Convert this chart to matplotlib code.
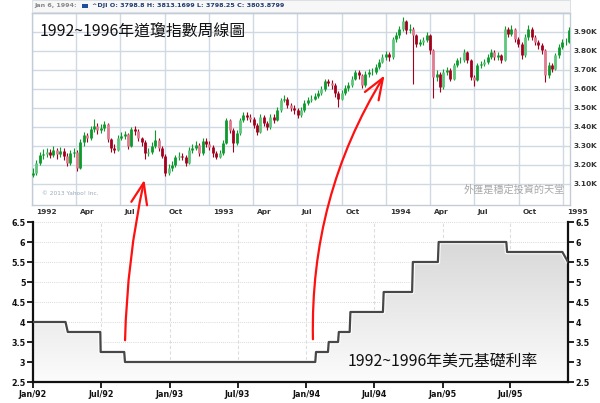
"""
道瓊指數周線圖 + 美元基礎利率 (1992~1996)
執行：python plot.py
"""

import numpy as np
import pandas as pd
import matplotlib
matplotlib.use("Agg")
import matplotlib.pyplot as plt
import matplotlib.dates as mdates
from matplotlib.colors import LinearSegmentedColormap
from matplotlib.patches import FancyArrowPatch, Rectangle

CJK = ['Noto Sans CJK TC', 'DejaVu Sans']

# ── 資料：道瓊周線 ───────────────────────────────────────────────
week_start = "1992-01-03"
first_open = 3150
dji_close = [
    3160, 3210, 3255, 3260, 3270, 3255, 3280, 3260, 3275, 3250,
    3210, 3265, 3270, 3185, 3320, 3360, 3340, 3390, 3405, 3385,
    3395, 3415, 3335, 3290, 3280, 3345, 3355, 3365, 3300, 3390,
    3380, 3340, 3320, 3265, 3270, 3300, 3330, 3290, 3250, 3160,
    3185, 3200, 3240, 3250, 3245, 3210, 3280, 3290, 3305, 3265,
    3325, 3310, 3297, 3262, 3245, 3262, 3315, 3437, 3385, 3315,
    3367, 3437, 3463, 3455, 3445, 3410, 3375, 3455, 3420, 3400,
    3455, 3437, 3490, 3542, 3550, 3515, 3498, 3490, 3463, 3490,
    3525, 3542, 3550, 3563, 3577, 3598, 3643, 3632, 3620, 3577,
    3550, 3577, 3603, 3620, 3655, 3690, 3672, 3620, 3681, 3690,
    3690, 3716, 3743, 3769, 3786, 3769, 3865, 3882, 3917, 3960,
    3908, 3917, 3882, 3838, 3847, 3856, 3882, 3803, 3664, 3681,
    3611, 3690, 3699, 3655, 3725, 3751, 3751, 3795, 3751, 3664,
    3646, 3725, 3734, 3742, 3769, 3795, 3769, 3777, 3751, 3917,
    3890, 3917, 3865, 3838, 3777, 3873, 3917, 3873, 3847, 3830,
    3803, 3672, 3725, 3708, 3777, 3821, 3847, 3847, 3908,
]
dji_high = [
    3185, 3225, 3270, 3285, 3290, 3285, 3300, 3290, 3295, 3290,
    3265, 3280, 3290, 3280, 3335, 3375, 3370, 3405, 3445, 3420,
    3415, 3430, 3420, 3345, 3310, 3360, 3375, 3380, 3370, 3400,
    3405, 3390, 3350, 3330, 3290, 3320, 3385, 3340, 3300, 3260,
    3205, 3220, 3255, 3270, 3265, 3255, 3295, 3310, 3325, 3315,
    3340, 3340, 3325, 3305, 3275, 3280, 3330, 3450, 3445, 3395,
    3385, 3450, 3480, 3478, 3470, 3455, 3420, 3468, 3465, 3430,
    3470, 3468, 3505, 3555, 3570, 3560, 3525, 3515, 3500, 3505,
    3540, 3558, 3568, 3580, 3595, 3615, 3655, 3655, 3645, 3630,
    3590, 3595, 3620, 3638, 3670, 3700, 3700, 3680, 3695, 3708,
    3712, 3730, 3758, 3785, 3800, 3795, 3875, 3900, 3930, 3978,
    3965, 3943, 3925, 3890, 3865, 3875, 3898, 3890, 3810, 3700,
    3690, 3705, 3718, 3710, 3738, 3765, 3770, 3810, 3800, 3760,
    3675, 3738, 3750, 3760, 3785, 3812, 3805, 3795, 3785, 3930,
    3928, 3935, 3922, 3875, 3845, 3888, 3936, 3925, 3885, 3860,
    3840, 3810, 3740, 3735, 3790, 3835, 3862, 3868, 3925,
]
dji_low = [
    3135, 3150, 3200, 3230, 3245, 3235, 3240, 3230, 3245, 3225,
    3195, 3200, 3245, 3170, 3180, 3300, 3320, 3330, 3375, 3365,
    3370, 3380, 3320, 3270, 3265, 3275, 3330, 3335, 3285, 3295,
    3360, 3325, 3300, 3230, 3250, 3260, 3290, 3275, 3235, 3140,
    3150, 3170, 3190, 3225, 3225, 3195, 3205, 3265, 3280, 3250,
    3255, 3295, 3280, 3245, 3230, 3235, 3255, 3310, 3370, 3270,
    3305, 3360, 3425, 3435, 3425, 3395, 3360, 3370, 3405, 3385,
    3390, 3420, 3430, 3480, 3530, 3500, 3485, 3470, 3450, 3455,
    3480, 3515, 3530, 3540, 3555, 3570, 3590, 3615, 3600, 3560,
    3507, 3540, 3570, 3590, 3610, 3645, 3655, 3603, 3612, 3665,
    3672, 3680, 3705, 3735, 3755, 3745, 3760, 3850, 3870, 3905,
    3890, 3895, 3629, 3820, 3825, 3830, 3845, 3785, 3555, 3640,
    3585, 3600, 3675, 3640, 3645, 3715, 3735, 3740, 3735, 3650,
    3615, 3640, 3712, 3722, 3730, 3760, 3752, 3755, 3735, 3745,
    3875, 3880, 3850, 3820, 3760, 3770, 3860, 3860, 3830, 3812,
    3785, 3637, 3660, 3690, 3700, 3765, 3810, 3830, 3840,
]

price_ticks = [3100, 3200, 3300, 3400, 3500, 3600, 3700, 3800, 3900]
price_labels = ["3.10K", "3.20K", "3.30K", "3.40K", "3.50K",
                "3.60K", "3.70K", "3.80K", "3.90K"]
top_ticks = ["1992-01-01", "1992-04-01", "1992-07-01", "1992-10-01",
             "1993-01-01", "1993-04-01", "1993-07-01", "1993-10-01",
             "1994-01-01", "1994-04-01", "1994-07-01", "1994-10-01",
             "1995-01-01"]
top_labels = ["1992", "Apr", "Jul", "Oct", "1993", "Apr", "Jul", "Oct",
              "1994", "Apr", "Jul", "Oct", "1995"]

# ── 資料：美元基礎利率 ────────────────────────────────────────────────
rate_dates = ["1992-01-01", "1992-03-28", "1992-04-03", "1992-06-29",
              "1992-06-30", "1992-09-01", "1992-09-03", "1994-01-25",
              "1994-01-27", "1994-02-28", "1994-03-02", "1994-03-27",
              "1994-03-29", "1994-04-27", "1994-04-29", "1994-07-25",
              "1994-07-27", "1994-10-11", "1994-10-13", "1994-12-19",
              "1994-12-21", "1995-06-20", "1995-06-22", "1995-11-17",
              "1995-12-02"]
rates = [4.0, 4.0, 3.75, 3.75, 3.25, 3.25, 3.0, 3.0, 3.25, 3.25, 3.5,
         3.5, 3.75, 3.75, 4.25, 4.25, 4.75, 4.75, 5.5, 5.5, 6.0, 6.0,
         5.75, 5.75, 5.5]
rate_ticks = [2.5, 3, 3.5, 4, 4.5, 5, 5.5, 6, 6.5]
bottom_ticks = ["1992-01-01", "1992-07-01", "1993-01-01", "1993-07-01",
                "1994-01-01", "1994-07-01", "1995-01-01", "1995-07-01"]
bottom_labels = ["Jan/92", "Jul/92", "Jan/93", "Jul/93",
                 "Jan/94", "Jul/94", "Jan/95", "Jul/95"]

W, H = 600, 403
fig = plt.figure(figsize=(W / 100, H / 100), dpi=100)
fig.patch.set_facecolor("white")


def fx(px):
    return px / W


def fy(py):
    return 1 - py / H


# ── 上圖：道瓊 ────────────────────────────────────────────────────────
ax1 = fig.add_axes([fx(32), fy(205), fx(538), (205 - 13) / H])
dates = pd.date_range(week_start, periods=len(dji_close), freq="7D")
xd = mdates.date2num(dates)
opens = [first_open] + dji_close[:-1]
for k, (x, o, c, hi, lo) in enumerate(zip(xd, opens, dji_close, dji_high, dji_low)):
    up = c >= o
    dark = "#0b9a2c" if up else "#a3001e"
    light = "#5fc67e" if up else "#e07b90"
    ax1.vlines(x, lo, hi, color=dark, lw=0.8, zorder=3)
    ax1.vlines(x, min(o, c), max(o, c), color=light if k % 3 == 1 else dark,
               lw=2.0, zorder=4)

ax1.set_xlim(mdates.date2num(pd.Timestamp("1992-01-01")),
             mdates.date2num(pd.Timestamp("1995-01-15")))
ax1.set_ylim(2990, 4000)
ax1.set_yticks(price_ticks + [4000])
ax1.set_yticklabels([])
ax1.set_xticks(mdates.date2num(pd.to_datetime(top_ticks)))
ax1.set_xticklabels([])
ax1.tick_params(length=0)
ax1.grid(True, color="#cfd9e3", lw=1.0)
ax1.set_axisbelow(True)
for s in ax1.spines.values():
    s.set_color("#c3ccd6")
    s.set_linewidth(1.0)

for v, lab in zip(price_ticks, price_labels):
    ax1.text(1.006, (v - 2990) / 1010, lab, transform=ax1.transAxes,
             fontsize=5.3, fontweight="bold", color="#333333",
             va="center", ha="left")
for d, lab in zip(top_ticks, top_labels):
    ax1.text(mdates.date2num(pd.Timestamp(d)) + 8, -0.02, lab,
             transform=ax1.get_xaxis_transform(), fontsize=5.3,
             fontweight="bold", color="#333333", va="top", ha="left")

ax1.text(0.018, 0.06, "© 2013 Yahoo! Inc.", transform=ax1.transAxes,
         fontsize=4.2, color="#9aaabb", va="center")
fig.text(fx(565), fy(190), "外匯是穩定投資的天堂", family=CJK, fontsize=7.3,
         color="#a8a8a8", ha="right", va="center")
fig.text(fx(40), fy(32), "1992~1996年道瓊指數周線圖", family=CJK,
         fontsize=11.4, color="#111111", va="center", ha="left")

# 上方資訊列
fig.add_artist(Rectangle((fx(32), fy(12)), fx(538), 12 / H,
                         transform=fig.transFigure, facecolor="#f7f7f7",
                         edgecolor="#d5dbe2", lw=0.6))
fig.text(fx(34), fy(6), "Jan 6, 1994:", fontsize=4.6, fontweight="bold",
         color="#888888", va="center")
fig.add_artist(Rectangle((fx(82), fy(8)), fx(6), 3.5 / H,
                         transform=fig.transFigure, facecolor="#1f4e9c",
                         edgecolor="none"))
fig.text(fx(92), fy(6), "^DJI O: 3798.8 H: 3813.1699 L: 3798.25 C: 3803.8799",
         fontsize=4.6, fontweight="bold", color="#1f3a6e", va="center")

# ── 下圖：美元基礎利率 ────────────────────────────────────────────────
ax2 = fig.add_axes([fx(33), fy(382), fx(535), (382 - 222) / H])
rx = mdates.date2num(pd.to_datetime(rate_dates))
x0 = mdates.date2num(pd.Timestamp("1992-01-01"))
x1 = mdates.date2num(pd.Timestamp("1995-12-02"))

cmap = LinearSegmentedColormap.from_list("g", ["#fcfcfc", "#d3d3d3"])
grad = np.linspace(0, 1, 256).reshape(-1, 1)
im = ax2.imshow(grad, extent=[x0, x1, 2.5, 6.5], aspect="auto", cmap=cmap,
                origin="lower", zorder=1)
poly = ax2.fill_between(rx, rates, 2.5, color="none")
im.set_clip_path(poly.get_paths()[0], transform=ax2.transData)
ax2.plot(rx, rates, color="#ffffff", lw=3.2, zorder=2)
ax2.plot(rx, rates, color="#474747", lw=1.6, zorder=3)

ax2.set_xlim(x0, x1)
ax2.set_ylim(2.5, 6.5)
ax2.set_yticks(rate_ticks)
ax2.set_yticklabels([("%g" % v) for v in rate_ticks])
ax2.set_xticks(mdates.date2num(pd.to_datetime(bottom_ticks)))
ax2.set_xticklabels(bottom_labels)
ax2.tick_params(axis="both", direction="out", length=4, width=1.3,
                labelsize=5.8, colors="#111111", pad=1.5,
                right=True, labelright=True)
for lab in ax2.get_xticklabels() + ax2.get_yticklabels():
    lab.set_fontweight("bold")
for lab in ax2.yaxis.get_ticklabels(which="both"):
    lab.set_fontweight("bold")
ax2.yaxis.grid(True, color="#cccccc", lw=0.6, ls=(0, (1, 1.5)))
ax2.xaxis.grid(True, color="#dddddd", lw=0.8, ls=(0, (3, 2)))
ax2.set_axisbelow(True)
ax2.spines["top"].set_visible(False)
for s in ["left", "right", "bottom"]:
    ax2.spines[s].set_linewidth(1.6)
    ax2.spines[s].set_color("#111111")
ax2.set_facecolor("white")

fig.text(fx(348), fy(361), "1992~1996年美元基礎利率", family=CJK,
         fontsize=11.4, color="#111111", va="center", ha="left")

# ── 紅色箭頭 ──────────────────────────────────────────────────────────
for (a, b, rad) in [((125, 343), (145, 177), -0.05),
                    ((313, 342), (386, 73), -0.15)]:
    arr = FancyArrowPatch((fx(a[0]), fy(a[1])), (fx(b[0]), fy(b[1])),
                          transform=fig.transFigure,
                          arrowstyle="->,head_length=0.45,head_width=0.17",
                          mutation_scale=34, connectionstyle="arc3,rad=%s" % rad,
                          color="#ff1010", lw=1.6, zorder=10)
    fig.add_artist(arr)

plt.savefig("out.png", dpi=100)
plt.close()
